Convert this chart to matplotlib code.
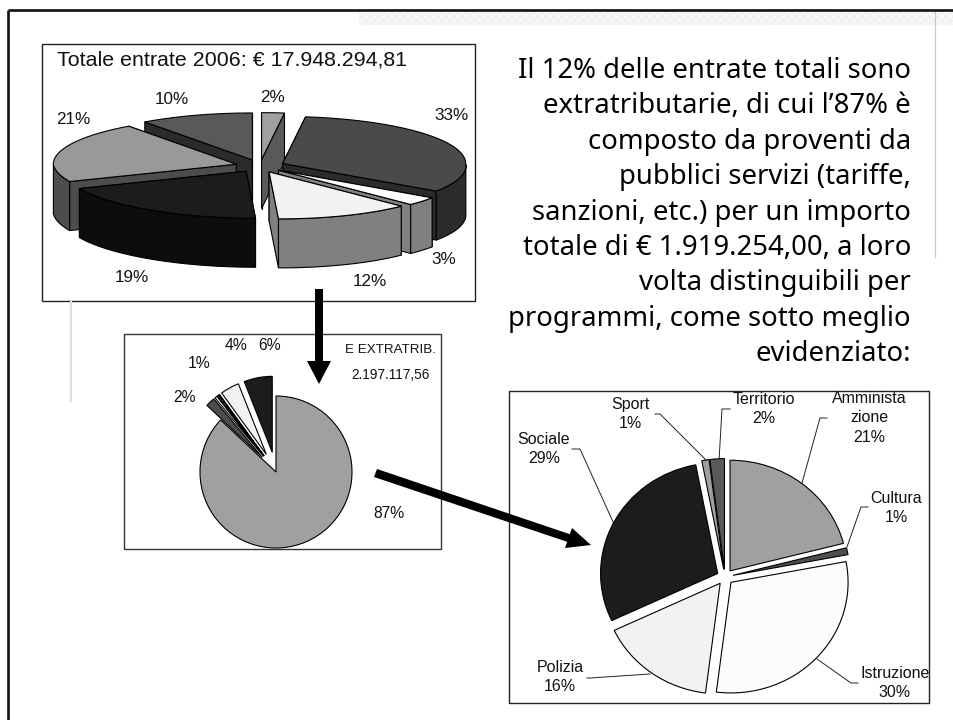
import numpy as np
import matplotlib
matplotlib.use('Agg')
import matplotlib.pyplot as plt
from matplotlib.patches import Polygon, Rectangle

W, H = 954, 720
plt.rcParams['font.family'] = ['Liberation Sans', 'DejaVu Sans']

# torta 3D : totale entrate
tot_valori = [2, 33, 3, 12, 19, 21, 10]
tot_sopra = ['#a0a0a0', '#4a4a4a', '#ffffff', '#f2f2f2', '#1c1c1c', '#999999', '#595959']
tot_lato = ['#595959', '#2b2b2b', '#808080', '#808080', '#0d0d0d', '#4d4d4d', '#2b2b2b']
tot_etichette = ['2%', '33%', '3%', '12%', '19%', '21%', '10%']
tot_pos = [(273, 97), (452, 116), (444, 260), (370, 281), (132, 278), (73, 119), (172, 100)]

# torta entrate extratributarie
ext_valori = [87, 2, 0.5, 0.3, 0.2, 4, 6]
ext_colori = ['#a0a0a0', '#4d4d4d', '#ffffff', '#808080', '#ffffff', '#f2f2f2', '#1c1c1c']
ext_etichette = ['87%', '2%', '1%', '4%', '6%']
ext_pos = [(389, 513), (185, 397), (199, 363), (236, 346), (270, 346)]

# torta programmi
prg_nomi = ['Amminista\nzione\n21%', 'Cultura\n1%', 'Istruzione\n30%', 'Polizia\n16%',
            'Sociale\n29%', 'Sport\n1%', 'Territorio\n2%']
prg_valori = [21, 1, 30, 16, 29, 1, 2]
prg_colori = ['#a0a0a0', '#4d4d4d', '#fcfcfc', '#f2f2f2', '#1c1c1c', '#a0a0a0', '#595959']
prg_pos = [(869, 418), (896, 508), (895, 683), (560, 677), (544, 449), (630, 414), (764, 409)]
prg_guide = [[(827, 418), (820, 418), (802, 483)],
             [(868, 507), (861, 507), (847, 547)],
             [(858, 683), (851, 683), (817, 659)],
             [(587, 678), (590, 678), (650, 674)],
             [(572, 449), (580, 449), (614, 524)],
             [(655, 414), (660, 414), (707, 461)],
             [(730, 409), (722, 409), (719, 461)]]

testo = ['Il 12% delle entrate totali sono', "extratributarie, di cui l’87% è", 'composto da proventi da',
         'pubblici servizi (tariffe,', 'sanzioni, etc.) per un importo', 'totale di € 1.919.254,00, a loro',
         'volta distinguibili per', 'programmi, come sotto meglio', 'evidenziato:']


def axes_px(fig, x0, y0, x1, y1):
    return fig.add_axes([x0 / W, 1 - y1 / H, (x1 - x0) / W, (y1 - y0) / H])


# disegna la torta 3D a fette staccate, dalla fetta in fondo a quella davanti
def torta_3d(ax, valori, sopra, lato, cx, cy, rx, ry, alt, stacco, prosp=0.2):
    fine = np.cumsum(valori) / sum(valori) * 360
    inizio = np.r_[0, fine[:-1]]
    medi = np.radians((inizio + fine) / 2)
    for i in np.argsort(-np.cos(medi)):
        px = cx + stacco * rx * np.sin(medi[i])
        py = cy - stacco * ry * np.cos(medi[i])
        t = np.radians(np.linspace(inizio[i], fine[i], 80))
        y = py - ry * np.cos(t)
        # la prospettiva spinge a destra la parte davanti
        x = px + rx * np.sin(t) + prosp * np.clip(y - py, 0, None)
        facce = sorted([(y[0], x[0]), (y[-1], x[-1])])
        for yb, xb in facce:
            ax.add_patch(Polygon([(px, py), (xb, yb), (xb, yb + alt), (px, py + alt)],
                                 fc=lato[i], ec='black', lw=0.8))
        # parete esterna, solo la parte rivolta verso chi guarda
        dav = np.cos(t) <= 0
        if dav.any():
            bordo = np.r_[np.c_[x[dav], y[dav]], np.c_[x[dav], y[dav] + alt][::-1]]
            ax.add_patch(Polygon(bordo, fc=lato[i], ec='black', lw=0.8))
        ax.add_patch(Polygon(np.r_[[(px, py)], np.c_[x, y]], fc=sopra[i], ec='black', lw=0.8))


fig = plt.figure(figsize=(W / 100, H / 100), dpi=100, facecolor='white')
ax = fig.add_axes([0, 0, 1, 1])
ax.set_xlim(0, W)
ax.set_ylim(H, 0)
ax.axis('off')

# cornice della diapositiva
ax.add_patch(Rectangle((359, 12), 595, 13, fc='#f1f1f1', ec='#fafafa', hatch='xxxx', lw=0))
ax.plot([935, 935], [11, 257], color='#c8c8c8', lw=0.9)
ax.plot([71, 71], [301, 401], color='#dddddd', lw=1.5)
ax.plot([8, 8], [720, 10], color='#111111', lw=1.9, solid_capstyle='butt')
ax.plot([8, 954], [10, 10], color='#111111', lw=1.9, solid_capstyle='butt')

# riquadri
ax.add_patch(Rectangle((42, 44), 433, 257, fc='white', ec='#222222', lw=1))
ax.add_patch(Rectangle((124, 334), 317, 215, fc='white', ec='#333333', lw=1))
ax.add_patch(Rectangle((509, 391), 420, 312, fc='white', ec='#222222', lw=1))

torta_3d(ax, tot_valori, tot_sopra, tot_lato, 260, 166, 183, 47, 49, 0.135)
for lab, (x, y) in zip(tot_etichette, tot_pos):
    ax.text(x, y, lab, fontsize=12.3, ha='center', va='center', color='#111111')
ax.text(57, 60, 'Totale entrate 2006: € 17.948.294,81', fontsize=15.4, ha='left', va='center', color='#111111')

# torte 2D
ax_ext = axes_px(fig, 276 - 100, 472 - 100, 276 + 100, 472 + 100)
ax_ext.pie(ext_valori, colors=ext_colori, startangle=90, counterclock=False, radius=0.76,
           explode=[0, 0.2, 0.2, 0.2, 0.2, 0.2, 0.2], wedgeprops={'edgecolor': 'black', 'linewidth': 0.8})
ax_ext.set_xlim(-1, 1)
ax_ext.set_ylim(-1, 1)
ax_ext.patch.set_visible(False)
for lab, (x, y) in zip(ext_etichette, ext_pos):
    ax.text(x, y, lab, fontsize=11.3, ha='center', va='center', color='#111111')
ax.text(391, 350, 'E EXTRATRIB.', fontsize=9.6, ha='center', va='center', color='#111111')
ax.text(391, 375, '2.197.117,56', fontsize=9.8, ha='center', va='center', color='#111111')

ax_prg = axes_px(fig, 725 - 130, 577 - 130, 725 + 130, 577 + 130)
ax_prg.pie(prg_valori, colors=prg_colori, startangle=90, counterclock=False, radius=1,
           explode=[0.07] * len(prg_valori), wedgeprops={'edgecolor': 'black', 'linewidth': 0.8})
ax_prg.set_aspect('auto')
ax_prg.set_xlim(-1.11, 1.11)
ax_prg.set_ylim(-1.175, 1.175)
ax_prg.patch.set_visible(False)
for guida in prg_guide:
    xs, ys = zip(*guida)
    ax.plot(xs, ys, color='#222222', lw=0.7, zorder=5)

# frecce e testi, sopra a tutto
ax_top = fig.add_axes([0, 0, 1, 1])
ax_top.set_xlim(0, W)
ax_top.set_ylim(H, 0)
ax_top.axis('off')
for lab, (x, y) in zip(prg_nomi, prg_pos):
    ax_top.text(x, y, lab, fontsize=11.5, ha='center', va='center', color='#111111', linespacing=1.35)
ax_top.add_patch(Polygon([(315, 289), (323, 289), (323, 361), (331, 361), (319, 384), (307, 361), (315, 361)],
                         fc='black', ec='none'))
ax_top.add_patch(Polygon([(377, 469), (569.8, 534.2), (572, 528), (591, 545), (565, 548), (567.2, 541.8), (374, 477)],
                         fc='black', ec='none'))

# testo a destra
for i, riga in enumerate(testo):
    ax_top.text(911, 71 + i * 35.4, riga, fontsize=19.8, ha='right', va='center', color='black',
                family=['Noto Sans', 'DejaVu Sans'])

fig.savefig('out.png', dpi=100)
